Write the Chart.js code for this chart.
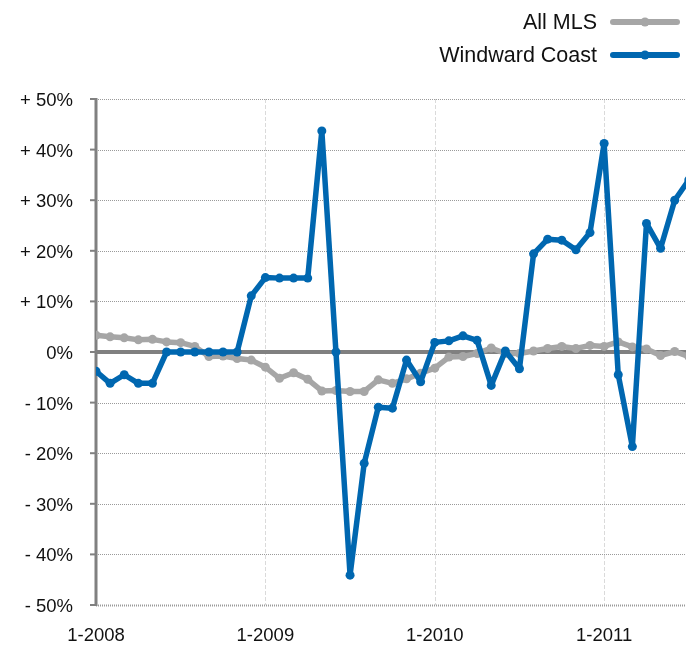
<!DOCTYPE html>
<html>
<head>
<meta charset="utf-8">
<script src="https://cdn.jsdelivr.net/npm/chart.js@4.4.1/dist/chart.umd.min.js"></script>
<style>
  html, body { margin: 0; padding: 0; background: #fff; overflow: hidden; }
  #wrap { position: relative; width: 686px; height: 647px; }
</style>
</head>
<body>
<div id="wrap"><canvas id="chart" width="686" height="647"></canvas></div>
<script>
// Year-over-year change, monthly, starting January 2008
const startYear = 2008;
const yearTicks = ['1-2008', '1-2009', '1-2010', '1-2011'];

const allMLS = [
  3.3, 3.0, 2.8, 2.4, 2.5, 2.0, 1.85, 1.1, -0.9, -0.8, -1.3, -1.6,
  -3.0, -5.2, -4.1, -5.4, -7.7, -7.6, -7.8, -7.8, -5.5, -6.2, -5.3, -4.2,
  -3.2, -1.0, -0.9, -0.3, 0.8, -0.3, -0.3, 0.2, 0.7, 1.1, 0.7, 1.3,
  1.1, 2.0, 1.0, 0.6, -0.7, 0.1, -0.9
];

const windwardCoast = [
  -3.8, -6.2, -4.5, -6.2, -6.2, 0, 0, 0, 0, 0, 0, 11.1,
  14.7, 14.6, 14.6, 14.6, 43.7, 0, -44.1, -22.0, -10.9, -11.1, -1.6, -5.9,
  1.9, 2.2, 3.2, 2.3, -6.6, 0.2, -3.3, 19.4, 22.3, 22.1, 20.2, 23.6,
  41.2, -4.5, -18.7, 25.4, 20.5, 30.0, 34.0
];

const seriesNames = ['All MLS', 'Windward Coast'];
const seriesColors = ['#a6a6a6', '#0067b0'];

// month labels like "1-2008", "2-2008", ...
const monthLabels = windwardCoast.map((_, i) =>
  ((i % 12) + 1) + '-' + (startYear + Math.floor(i / 12)));

const toPoints = arr => arr.map((y, i) => ({ x: i, y }));

const FONT = '"Liberation Sans", Arial, Helvetica, sans-serif';
const AXIS_GRAY = '#808080';

// Grid, zero line and axis line drawn beneath the series
const backdrop = {
  id: 'backdrop',
  beforeDatasetsDraw(chart) {
    const { ctx, chartArea: a, scales: { x, y } } = chart;
    ctx.save();
    // vertical year separators
    ctx.strokeStyle = '#dadada';
    ctx.lineWidth = 1;
    ctx.setLineDash([4, 2]);
    [12, 24, 36].forEach(v => {
      const px = Math.round(x.getPixelForValue(v)) + 0.5;
      ctx.beginPath(); ctx.moveTo(px, a.top); ctx.lineTo(px, a.bottom); ctx.stroke();
    });
    // horizontal dotted grid
    ctx.strokeStyle = '#9a9a9a';
    ctx.setLineDash([1, 1]);
    y.ticks.forEach(t => {
      if (t.value === 0) return;
      const py = Math.round(y.getPixelForValue(t.value)) + 0.5;
      ctx.lineWidth = t.value === -50 ? 2 : 1;
      ctx.beginPath(); ctx.moveTo(a.left, py); ctx.lineTo(a.right, py); ctx.stroke();
    });
    ctx.setLineDash([]);
    // y axis line and tick marks
    ctx.strokeStyle = AXIS_GRAY;
    ctx.lineWidth = 3;
    ctx.beginPath(); ctx.moveTo(a.left, a.top - 1); ctx.lineTo(a.left, a.bottom + 1); ctx.stroke();
    ctx.lineWidth = 2;
    y.ticks.forEach(t => {
      const py = y.getPixelForValue(t.value);
      ctx.beginPath(); ctx.moveTo(a.left - 6, py); ctx.lineTo(a.left, py); ctx.stroke();
    });
    // zero line
    ctx.lineWidth = 4;
    const z = y.getPixelForValue(0);
    ctx.beginPath(); ctx.moveTo(a.left, z); ctx.lineTo(a.right, z); ctx.stroke();
    ctx.restore();
  }
};

// Legend at the top right: label, then a line sample with a dot
const legendRight = {
  id: 'legendRight',
  afterDraw(chart) {
    const { ctx } = chart;
    const rows = [{ i: 0, y: 22 }, { i: 1, y: 55 }];
    ctx.save();
    ctx.font = '21.5px ' + FONT;
    ctx.textAlign = 'right';
    ctx.textBaseline = 'middle';
    rows.forEach(r => {
      ctx.fillStyle = '#111';
      ctx.fillText(seriesNames[r.i], 597, r.y + 1);
      ctx.strokeStyle = seriesColors[r.i];
      ctx.lineWidth = 6;
      ctx.lineCap = 'round';
      ctx.beginPath(); ctx.moveTo(613, r.y); ctx.lineTo(677, r.y); ctx.stroke();
      ctx.fillStyle = seriesColors[r.i];
      ctx.beginPath(); ctx.arc(645, r.y, 4.5, 0, Math.PI * 2); ctx.fill();
    });
    ctx.restore();
  }
};

const lineStyle = {
  borderWidth: 5.5,
  pointRadius: 4.5,
  pointBorderWidth: 0,
  tension: 0,
  borderJoinStyle: 'round',
  borderCapStyle: 'round'
};

new Chart(document.getElementById('chart'), {
  type: 'line',
  data: {
    datasets: [
      Object.assign({
        label: seriesNames[1],
        data: toPoints(windwardCoast),
        borderColor: seriesColors[1],
        backgroundColor: seriesColors[1],
        order: 0
      }, lineStyle),
      Object.assign({
        label: seriesNames[0],
        data: toPoints(allMLS),
        borderColor: seriesColors[0],
        backgroundColor: seriesColors[0],
        order: 1
      }, lineStyle)
    ]
  },
  options: {
    responsive: false,
    animation: false,
    events: [],
    layout: { autoPadding: false, padding: { top: 99, right: 0, left: 0, bottom: 0 } },
    plugins: { legend: { display: false }, tooltip: { enabled: false } },
    scales: {
      x: {
        type: 'linear',
        min: 0,
        max: 41.8,
        grid: { display: false, drawTicks: false },
        border: { display: false },
        afterBuildTicks: s => { s.ticks = yearTicks.map((_, k) => ({ value: k * 12 })); },
        afterFit: s => { s.height = 42; },
        ticks: {
          padding: 20,
          maxRotation: 0,
          autoSkip: false,
          color: '#111',
          font: { family: FONT, size: 18.5 },
          callback: v => monthLabels[v]
        }
      },
      y: {
        min: -50,
        max: 50,
        grid: { display: false, drawTicks: false },
        border: { display: false },
        afterFit: s => { s.width = 96; },
        ticks: {
          stepSize: 10,
          padding: 23,
          labelOffset: 2,
          color: '#111',
          font: { family: FONT, size: 18.5 },
          callback: v => v > 0 ? '+ ' + v + '%' : (v < 0 ? '- ' + Math.abs(v) + '%' : '0%')
        }
      }
    }
  },
  plugins: [backdrop, legendRight]
});
</script>
</body>
</html>
